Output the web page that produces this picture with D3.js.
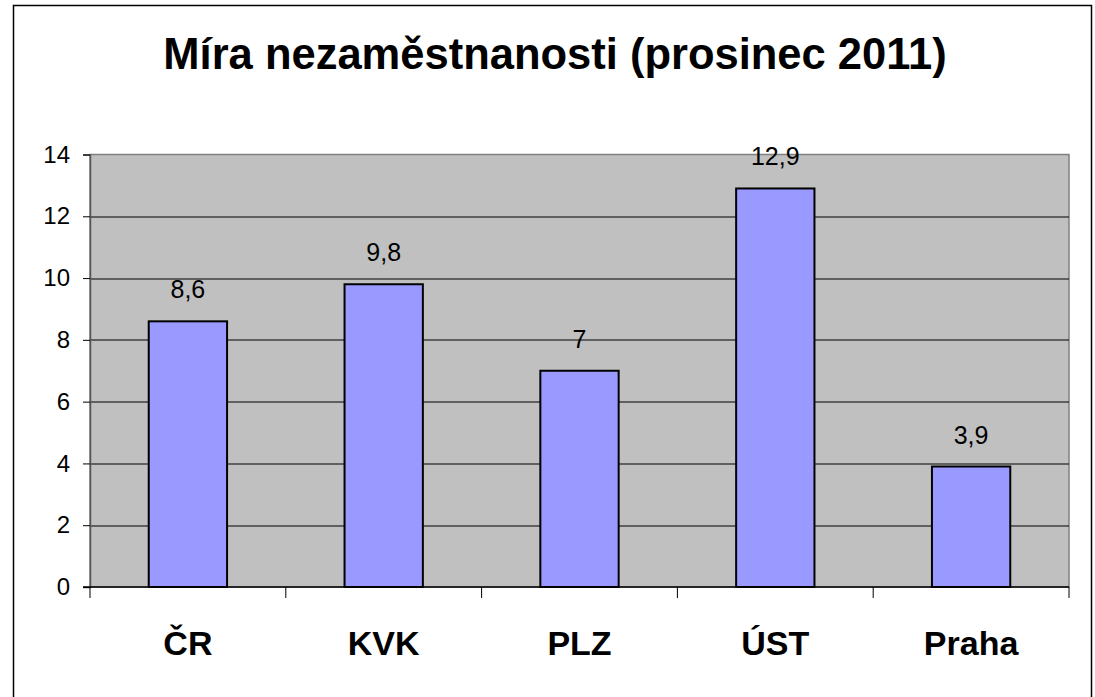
<!DOCTYPE html>
<html>
<head>
<meta charset="utf-8">
<script src="https://cdn.jsdelivr.net/npm/d3@7"></script>
<style>
  body { margin: 0; background: #fff; }
  svg { display: block; font-family: "Liberation Sans", Arial, sans-serif; }
</style>
</head>
<body>
<div id="viz"></div>
<script>
const categories = ["ČR", "KVK", "PLZ", "ÚST", "Praha"]
const values = [8.6, 9.8, 7, 12.9, 3.9]
const labels = ["8,6", "9,8", "7", "12,9", "3,9"]
const yTicks = [0, 2, 4, 6, 8, 10, 12, 14]
const title = "Míra nezaměstnanosti (prosinec 2011)"

const width = 1095
const height = 697
const margin = {top: 154.5, bottom: 110, right: 26, left: 90}
const innerWidth = width - margin.left - margin.right
const innerHeight = height - margin.top - margin.bottom

const svg = d3.select("#viz")
  .append("svg")
  .attr("width", width)
  .attr("height", height)

// outer frame (bottom edge is outside the picture)
svg.append("path")
  .attr("d", "M13.5," + height + "V5.5H1091.5V" + height)
  .attr("fill", "none")
  .attr("stroke", "#000")
  .attr("stroke-width", 1.5)

svg.append("text")
  .text(title)
  .attr("x", 555)
  .attr("y", 69)
  .attr("text-anchor", "middle")
  .style("font-size", "43.5px")
  .style("font-weight", "bold")

const g = svg.append("g")
  .attr("transform", "translate(" + margin.left + "," + margin.top + ")")

const xScale = d3.scaleBand().domain(categories).range([0, innerWidth]).paddingInner(0.6).paddingOuter(0.3)
const xBand = d3.scaleBand().domain(categories).range([0, innerWidth])
const yScale = d3.scaleLinear().domain([0, 14]).range([innerHeight, 0])

// plot background
g.append("rect")
  .attr("width", innerWidth)
  .attr("height", innerHeight)
  .attr("fill", "#c0c0c0")
  .attr("stroke", "#808080")
  .attr("stroke-width", 1.5)

// gridlines
g.selectAll(".grid")
  .data(yTicks.filter(d => d > 0 && d < 14))
  .enter().append("line")
  .attr("x1", 0).attr("x2", innerWidth)
  .attr("y1", d => Math.round(yScale(d)) + 0.5)
  .attr("y2", d => Math.round(yScale(d)) + 0.5)
  .attr("stroke", "#000")
  .attr("stroke-width", 1)

// y axis
const yAxisG = g.append("g")
  .call(d3.axisLeft(yScale).tickValues(yTicks).tickSize(7).tickPadding(13).tickFormat(d => d))
yAxisG.select(".domain").attr("stroke", "#555").attr("stroke-width", 1.5)
yAxisG.selectAll(".tick line").attr("stroke", "#000")
yAxisG.selectAll("text").style("font-size", "24px").attr("fill", "#000")
  .attr("font-family", null)

// bars
g.selectAll(".bar")
  .data(values)
  .enter().append("rect")
  .attr("class", "bar")
  .attr("x", (d, i) => xScale(categories[i]))
  .attr("y", d => yScale(d))
  .attr("width", xScale.bandwidth())
  .attr("height", d => innerHeight - yScale(d))
  .attr("fill", "#9999ff")
  .attr("stroke", "#000")
  .attr("stroke-width", 2)

// value labels
g.selectAll(".val")
  .data(values)
  .enter().append("text")
  .attr("x", (d, i) => xScale(categories[i]) + xScale.bandwidth() / 2)
  .attr("y", d => yScale(d) - 23)
  .attr("text-anchor", "middle")
  .style("font-size", "25px")
  .text((d, i) => labels[i])

// x axis
const xAxisG = g.append("g")
  .attr("transform", "translate(0," + innerHeight + ")")
xAxisG.append("line")
  .attr("x1", -7).attr("x2", innerWidth)
  .attr("stroke", "#000").attr("stroke-width", 1.5)
xAxisG.selectAll(".xtick")
  .data(categories.concat(["end"]))
  .enter().append("line")
  .attr("x1", (d, i) => i < categories.length ? xBand(d) : innerWidth)
  .attr("x2", (d, i) => i < categories.length ? xBand(d) : innerWidth)
  .attr("y1", 0).attr("y2", 11)
  .attr("stroke", "#000").attr("stroke-width", 1)
xAxisG.selectAll(".xlab")
  .data(categories)
  .enter().append("text")
  .attr("x", d => xBand(d) + xBand.bandwidth() / 2)
  .attr("y", 68)
  .attr("text-anchor", "middle")
  .style("font-size", "34px")
  .style("font-weight", "bold")
  .text(d => d)
</script>
</body>
</html>
